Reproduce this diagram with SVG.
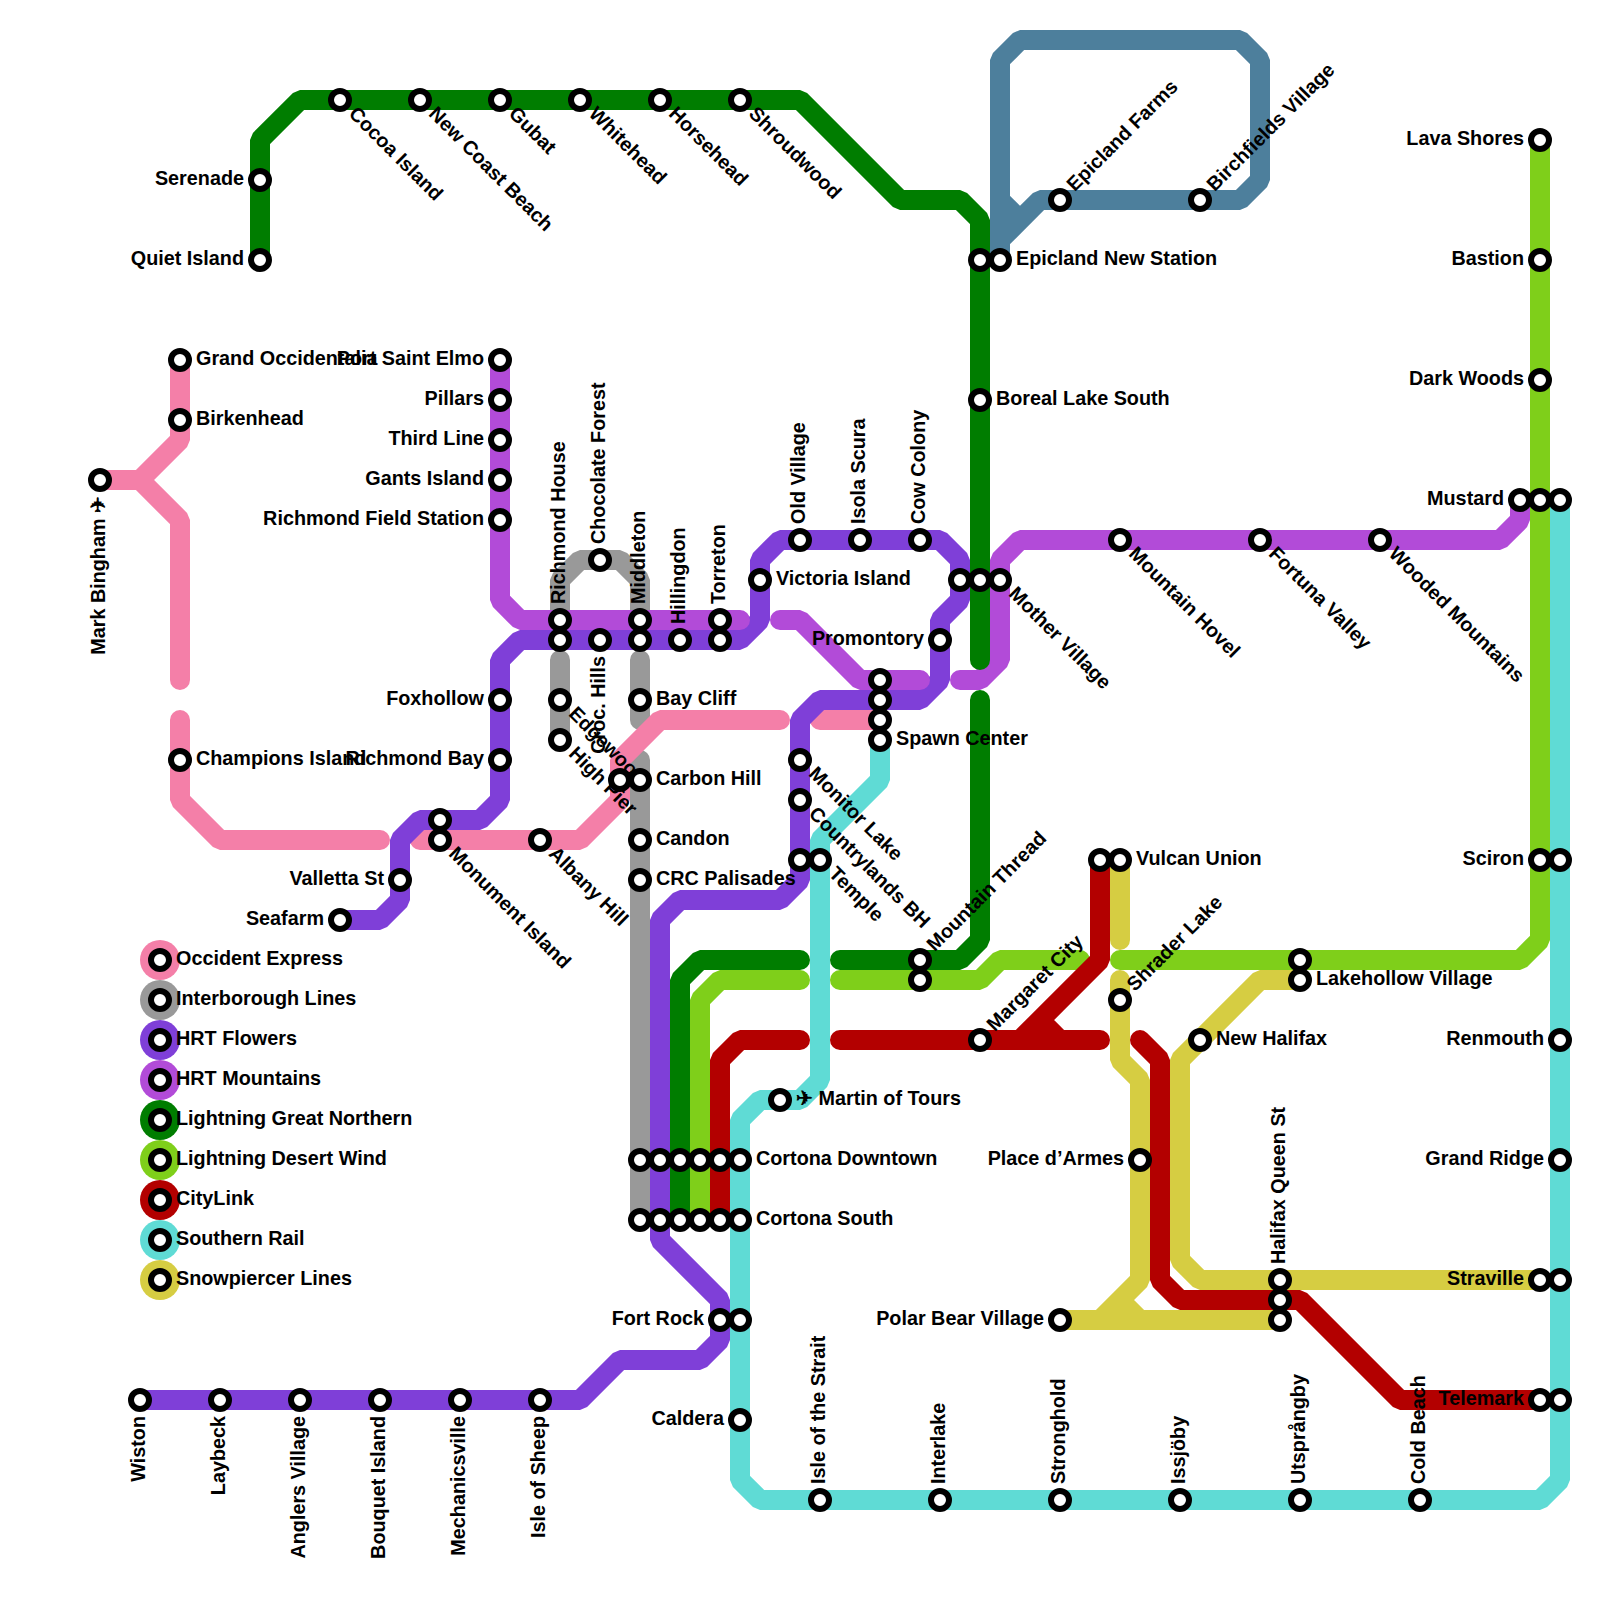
<svg xmlns="http://www.w3.org/2000/svg" width="1600" height="1600" viewBox="0 0 1600 1600">
<style>
text{font-family:"Liberation Sans",Arial,sans-serif;font-weight:700;font-size:19.8px;fill:#000}
.e{text-anchor:end}
.l{fill:none;stroke-width:20;stroke-linecap:round;stroke-linejoin:bevel}
.pk{stroke:#f47fa8}.gy{stroke:#999999}.pu{stroke:#7f3fd8}.mt{stroke:#b24bd8}.gn{stroke:#007d00}.lg{stroke:#7fcf1a}.rd{stroke:#b30000}.tq{stroke:#5fdbd5}.yl{stroke:#d6cd42}.bl{stroke:#4d7f9c}
.st{fill:#fff;stroke:#000;stroke-width:6}
</style>
<rect width="1600" height="1600" fill="#fff"/>
<g id="connectors">
<path class="l gy" d="M560 620V580L580 560H620L640 580V620M560 660V740M640 660V720M640 760V1220"/>
<path class="l pk" d="M180 360V440L140 480H100M140 480L180 520V680M180 720V800L220 840H380M420 840H580L620 800V760L660 720H780M820 720H880"/>
<path class="l pu" d="M340 920H380L400 900V840L420 820H480L500 800V660L520 640H740L760 620V560L780 540H940L960 560V600L940 620V680L920 700H820L800 720V880L780 900H680L660 920V1240L720 1300V1340L700 1360H620L580 1400H140"/>
<path class="l mt" d="M500 360V600L520 620H740M780 620H800L860 680H920M960 680H980L1000 660V560L1020 540H1500L1520 520V500"/>
<path class="l gn" d="M260 260V140L300 100H800L900 200H960L980 220V660M980 700V940L960 960H840M800 960H700L680 980V1220"/>
<path class="l lg" d="M1540 140V940L1520 960H1120M1080 960H1000L980 980H840M800 980H720L700 1000V1220"/>
<path class="l yl" d="M1120 860V940M1120 980V1060L1140 1080V1280L1100 1320H1060M1120 1300L1140 1320M1060 1320H1280M1300 980H1260L1180 1060V1260L1200 1280H1540"/>
<path class="l rd" d="M840 1040H1100M1020 1040L1100 960V860M1040 1020L1060 1040M800 1040H740L720 1060V1220M1140 1040L1160 1060V1280L1180 1300H1300L1400 1400H1540"/>
<path class="l tq" d="M880 740V780L820 840V1080L800 1100H760L740 1120V1480L760 1500H1540L1560 1480V500"/>
<path class="l bl" d="M1000 260V60L1020 40H1240L1260 60V180L1240 200H1040L1000 240M1000 200L1020 220"/>
</g>
<g id="legend">
<circle cx="160" cy="960" r="20" fill="#f47fa8"/><circle class="st" cx="160" cy="960" r="9"/><text x="176" y="965">Occident Express</text>
<circle cx="160" cy="1000" r="20" fill="#999999"/><circle class="st" cx="160" cy="1000" r="9"/><text x="176" y="1005">Interborough Lines</text>
<circle cx="160" cy="1040" r="20" fill="#7f3fd8"/><circle class="st" cx="160" cy="1040" r="9"/><text x="176" y="1045">HRT Flowers</text>
<circle cx="160" cy="1080" r="20" fill="#b24bd8"/><circle class="st" cx="160" cy="1080" r="9"/><text x="176" y="1085">HRT Mountains</text>
<circle cx="160" cy="1120" r="20" fill="#007d00"/><circle class="st" cx="160" cy="1120" r="9"/><text x="176" y="1125">Lightning Great Northern</text>
<circle cx="160" cy="1160" r="20" fill="#7fcf1a"/><circle class="st" cx="160" cy="1160" r="9"/><text x="176" y="1165">Lightning Desert Wind</text>
<circle cx="160" cy="1200" r="20" fill="#b30000"/><circle class="st" cx="160" cy="1200" r="9"/><text x="176" y="1205">CityLink</text>
<circle cx="160" cy="1240" r="20" fill="#5fdbd5"/><circle class="st" cx="160" cy="1240" r="9"/><text x="176" y="1245">Southern Rail</text>
<circle cx="160" cy="1280" r="20" fill="#d6cd42"/><circle class="st" cx="160" cy="1280" r="9"/><text x="176" y="1285">Snowpiercer Lines</text>
</g>
<g id="stations">
<g id="mark-bingham"><circle class="st" cx="100" cy="480" r="9"/><text class="e" transform="translate(100 480) rotate(-90)" x="-16" y="5">Mark Bingham ✈</text></g>
<g id="grand-occidentalia"><circle class="st" cx="180" cy="360" r="9"/><text x="196" y="365">Grand Occidentalia</text></g>
<g id="birkenhead"><circle class="st" cx="180" cy="420" r="9"/><text x="196" y="425">Birkenhead</text></g>
<g id="champions-island"><circle class="st" cx="180" cy="760" r="9"/><text x="196" y="765">Champions Island</text></g>
<g id="port-saint-elmo"><circle class="st" cx="500" cy="360" r="9"/><text class="e" x="484" y="365">Port Saint Elmo</text></g>
<g id="pillars"><circle class="st" cx="500" cy="400" r="9"/><text class="e" x="484" y="405">Pillars</text></g>
<g id="third-line"><circle class="st" cx="500" cy="440" r="9"/><text class="e" x="484" y="445">Third Line</text></g>
<g id="gants-island"><circle class="st" cx="500" cy="480" r="9"/><text class="e" x="484" y="485">Gants Island</text></g>
<g id="richmond-field-station"><circle class="st" cx="500" cy="520" r="9"/><text class="e" x="484" y="525">Richmond Field Station</text></g>
<g id="foxhollow"><circle class="st" cx="500" cy="700" r="9"/><text class="e" x="484" y="705">Foxhollow</text></g>
<g id="richmond-bay"><circle class="st" cx="500" cy="760" r="9"/><text class="e" x="484" y="765">Richmond Bay</text></g>
<g id="monument-island"><circle class="st" cx="440" cy="820" r="9"/><circle class="st" cx="440" cy="840" r="9"/><text transform="translate(440 840) rotate(45)" x="16" y="5">Monument Island</text></g>
<g id="valletta-st"><circle class="st" cx="400" cy="880" r="9"/><text class="e" x="384" y="885">Valletta St</text></g>
<g id="seafarm"><circle class="st" cx="340" cy="920" r="9"/><text class="e" x="324" y="925">Seafarm</text></g>
<g id="albany-hill"><circle class="st" cx="540" cy="840" r="9"/><text transform="translate(540 840) rotate(45)" x="16" y="5">Albany Hill</text></g>
<g id="serenade"><circle class="st" cx="260" cy="180" r="9"/><text class="e" x="244" y="185">Serenade</text></g>
<g id="quiet-island"><circle class="st" cx="260" cy="260" r="9"/><text class="e" x="244" y="265">Quiet Island</text></g>
<g id="cocoa-island"><circle class="st" cx="340" cy="100" r="9"/><text transform="translate(340 100) rotate(45)" x="16" y="5">Cocoa Island</text></g>
<g id="new-coast-beach"><circle class="st" cx="420" cy="100" r="9"/><text transform="translate(420 100) rotate(45)" x="16" y="5">New Coast Beach</text></g>
<g id="gubat"><circle class="st" cx="500" cy="100" r="9"/><text transform="translate(500 100) rotate(45)" x="16" y="5">Gubat</text></g>
<g id="whitehead"><circle class="st" cx="580" cy="100" r="9"/><text transform="translate(580 100) rotate(45)" x="16" y="5">Whitehead</text></g>
<g id="horsehead"><circle class="st" cx="660" cy="100" r="9"/><text transform="translate(660 100) rotate(45)" x="16" y="5">Horsehead</text></g>
<g id="shroudwood"><circle class="st" cx="740" cy="100" r="9"/><text transform="translate(740 100) rotate(45)" x="16" y="5">Shroudwood</text></g>
<g id="richmond-house"><circle class="st" cx="560" cy="620" r="9"/><circle class="st" cx="560" cy="640" r="9"/><text transform="translate(560 620) rotate(-90)" x="16" y="5">Richmond House</text></g>
<g id="chocolate-forest"><circle class="st" cx="600" cy="560" r="9"/><text transform="translate(600 560) rotate(-90)" x="16" y="5">Chocolate Forest</text></g>
<g id="croc-hills"><circle class="st" cx="600" cy="640" r="9"/><text class="e" transform="translate(600 640) rotate(-90)" x="-16" y="5">Croc. Hills</text></g>
<g id="middleton"><circle class="st" cx="640" cy="620" r="9"/><circle class="st" cx="640" cy="640" r="9"/><text transform="translate(640 620) rotate(-90)" x="16" y="5">Middleton</text></g>
<g id="hillingdon"><circle class="st" cx="680" cy="640" r="9"/><text transform="translate(680 640) rotate(-90)" x="16" y="5">Hillingdon</text></g>
<g id="torreton"><circle class="st" cx="720" cy="620" r="9"/><circle class="st" cx="720" cy="640" r="9"/><text transform="translate(720 620) rotate(-90)" x="16" y="5">Torreton</text></g>
<g id="edgewood"><circle class="st" cx="560" cy="700" r="9"/><text transform="translate(560 700) rotate(45)" x="16" y="5">Edgewood</text></g>
<g id="high-pier"><circle class="st" cx="560" cy="740" r="9"/><text transform="translate(560 740) rotate(45)" x="16" y="5">High Pier</text></g>
<g id="bay-cliff"><circle class="st" cx="640" cy="700" r="9"/><text x="656" y="705">Bay Cliff</text></g>
<g id="carbon-hill"><circle class="st" cx="620" cy="780" r="9"/><circle class="st" cx="640" cy="780" r="9"/><text x="656" y="785">Carbon Hill</text></g>
<g id="candon"><circle class="st" cx="640" cy="840" r="9"/><text x="656" y="845">Candon</text></g>
<g id="crc-palisades"><circle class="st" cx="640" cy="880" r="9"/><text x="656" y="885">CRC Palisades</text></g>
<g id="victoria-island"><circle class="st" cx="760" cy="580" r="9"/><text x="776" y="585">Victoria Island</text></g>
<g id="old-village"><circle class="st" cx="800" cy="540" r="9"/><text transform="translate(800 540) rotate(-90)" x="16" y="5">Old Village</text></g>
<g id="isola-scura"><circle class="st" cx="860" cy="540" r="9"/><text transform="translate(860 540) rotate(-90)" x="16" y="5">Isola Scura</text></g>
<g id="cow-colony"><circle class="st" cx="920" cy="540" r="9"/><text transform="translate(920 540) rotate(-90)" x="16" y="5">Cow Colony</text></g>
<g id="promontory"><circle class="st" cx="940" cy="640" r="9"/><text class="e" x="924" y="645">Promontory</text></g>
<g id="mother-village"><circle class="st" cx="960" cy="580" r="9"/><circle class="st" cx="980" cy="580" r="9"/><circle class="st" cx="1000" cy="580" r="9"/><text transform="translate(1000 580) rotate(45)" x="16" y="5">Mother Village</text></g>
<g id="spawn-center"><circle class="st" cx="880" cy="680" r="9"/><circle class="st" cx="880" cy="700" r="9"/><circle class="st" cx="880" cy="720" r="9"/><circle class="st" cx="880" cy="740" r="9"/><text x="896" y="745">Spawn Center</text></g>
<g id="monitor-lake"><circle class="st" cx="800" cy="760" r="9"/><text transform="translate(800 760) rotate(45)" x="16" y="5">Monitor Lake</text></g>
<g id="countrylands-bh"><circle class="st" cx="800" cy="800" r="9"/><text transform="translate(800 800) rotate(45)" x="16" y="5">Countrylands BH</text></g>
<g id="temple"><circle class="st" cx="800" cy="860" r="9"/><circle class="st" cx="820" cy="860" r="9"/><text transform="translate(820 860) rotate(45)" x="16" y="5">Temple</text></g>
<g id="epicland-new-station"><circle class="st" cx="980" cy="260" r="9"/><circle class="st" cx="1000" cy="260" r="9"/><text x="1016" y="265">Epicland New Station</text></g>
<g id="boreal-lake-south"><circle class="st" cx="980" cy="400" r="9"/><text x="996" y="405">Boreal Lake South</text></g>
<g id="epicland-farms"><circle class="st" cx="1060" cy="200" r="9"/><text transform="translate(1060 200) rotate(-45)" x="16" y="5">Epicland Farms</text></g>
<g id="birchfields-village"><circle class="st" cx="1200" cy="200" r="9"/><text transform="translate(1200 200) rotate(-45)" x="16" y="5">Birchfields Village</text></g>
<g id="mountain-hovel"><circle class="st" cx="1120" cy="540" r="9"/><text transform="translate(1120 540) rotate(45)" x="16" y="5">Mountain Hovel</text></g>
<g id="fortuna-valley"><circle class="st" cx="1260" cy="540" r="9"/><text transform="translate(1260 540) rotate(45)" x="16" y="5">Fortuna Valley</text></g>
<g id="wooded-mountains"><circle class="st" cx="1380" cy="540" r="9"/><text transform="translate(1380 540) rotate(45)" x="16" y="5">Wooded Mountains</text></g>
<g id="lava-shores"><circle class="st" cx="1540" cy="140" r="9"/><text class="e" x="1524" y="145">Lava Shores</text></g>
<g id="bastion"><circle class="st" cx="1540" cy="260" r="9"/><text class="e" x="1524" y="265">Bastion</text></g>
<g id="dark-woods"><circle class="st" cx="1540" cy="380" r="9"/><text class="e" x="1524" y="385">Dark Woods</text></g>
<g id="mustard"><circle class="st" cx="1520" cy="500" r="9"/><circle class="st" cx="1540" cy="500" r="9"/><circle class="st" cx="1560" cy="500" r="9"/><text class="e" x="1504" y="505">Mustard</text></g>
<g id="sciron"><circle class="st" cx="1540" cy="860" r="9"/><circle class="st" cx="1560" cy="860" r="9"/><text class="e" x="1524" y="865">Sciron</text></g>
<g id="renmouth"><circle class="st" cx="1560" cy="1040" r="9"/><text class="e" x="1544" y="1045">Renmouth</text></g>
<g id="grand-ridge"><circle class="st" cx="1560" cy="1160" r="9"/><text class="e" x="1544" y="1165">Grand Ridge</text></g>
<g id="straville"><circle class="st" cx="1540" cy="1280" r="9"/><circle class="st" cx="1560" cy="1280" r="9"/><text class="e" x="1524" y="1285">Straville</text></g>
<g id="telemark"><circle class="st" cx="1540" cy="1400" r="9"/><circle class="st" cx="1560" cy="1400" r="9"/><text class="e" x="1524" y="1405">Telemark</text></g>
<g id="vulcan-union"><circle class="st" cx="1100" cy="860" r="9"/><circle class="st" cx="1120" cy="860" r="9"/><text x="1136" y="865">Vulcan Union</text></g>
<g id="shrader-lake"><circle class="st" cx="1120" cy="1000" r="9"/><text transform="translate(1120 1000) rotate(-45)" x="16" y="5">Shrader Lake</text></g>
<g id="margaret-city"><circle class="st" cx="980" cy="1040" r="9"/><text transform="translate(980 1040) rotate(-45)" x="16" y="5">Margaret City</text></g>
<g id="mountain-thread"><circle class="st" cx="920" cy="960" r="9"/><circle class="st" cx="920" cy="980" r="9"/><text transform="translate(920 960) rotate(-45)" x="16" y="5">Mountain Thread</text></g>
<g id="lakehollow-village"><circle class="st" cx="1300" cy="960" r="9"/><circle class="st" cx="1300" cy="980" r="9"/><text x="1316" y="985">Lakehollow Village</text></g>
<g id="new-halifax"><circle class="st" cx="1200" cy="1040" r="9"/><text x="1216" y="1045">New Halifax</text></g>
<g id="place-darmes"><circle class="st" cx="1140" cy="1160" r="9"/><text class="e" x="1124" y="1165">Place d’Armes</text></g>
<g id="polar-bear-village"><circle class="st" cx="1060" cy="1320" r="9"/><text class="e" x="1044" y="1325">Polar Bear Village</text></g>
<g id="halifax-queen-st"><circle class="st" cx="1280" cy="1280" r="9"/><circle class="st" cx="1280" cy="1300" r="9"/><circle class="st" cx="1280" cy="1320" r="9"/><text transform="translate(1280 1280) rotate(-90)" x="16" y="5">Halifax Queen St</text></g>
<g id="martin-of-tours"><circle class="st" cx="780" cy="1100" r="9"/><text x="796" y="1105">✈ Martin of Tours</text></g>
<g id="cortona-downtown"><circle class="st" cx="640" cy="1160" r="9"/><circle class="st" cx="660" cy="1160" r="9"/><circle class="st" cx="680" cy="1160" r="9"/><circle class="st" cx="700" cy="1160" r="9"/><circle class="st" cx="720" cy="1160" r="9"/><circle class="st" cx="740" cy="1160" r="9"/><text x="756" y="1165">Cortona Downtown</text></g>
<g id="cortona-south"><circle class="st" cx="640" cy="1220" r="9"/><circle class="st" cx="660" cy="1220" r="9"/><circle class="st" cx="680" cy="1220" r="9"/><circle class="st" cx="700" cy="1220" r="9"/><circle class="st" cx="720" cy="1220" r="9"/><circle class="st" cx="740" cy="1220" r="9"/><text x="756" y="1225">Cortona South</text></g>
<g id="fort-rock"><circle class="st" cx="720" cy="1320" r="9"/><circle class="st" cx="740" cy="1320" r="9"/><text class="e" x="704" y="1325">Fort Rock</text></g>
<g id="caldera"><circle class="st" cx="740" cy="1420" r="9"/><text class="e" x="724" y="1425">Caldera</text></g>
<g id="wiston"><circle class="st" cx="140" cy="1400" r="9"/><text class="e" transform="translate(140 1400) rotate(-90)" x="-16" y="5">Wiston</text></g>
<g id="laybeck"><circle class="st" cx="220" cy="1400" r="9"/><text class="e" transform="translate(220 1400) rotate(-90)" x="-16" y="5">Laybeck</text></g>
<g id="anglers-village"><circle class="st" cx="300" cy="1400" r="9"/><text class="e" transform="translate(300 1400) rotate(-90)" x="-16" y="5">Anglers Village</text></g>
<g id="bouquet-island"><circle class="st" cx="380" cy="1400" r="9"/><text class="e" transform="translate(380 1400) rotate(-90)" x="-16" y="5">Bouquet Island</text></g>
<g id="mechanicsville"><circle class="st" cx="460" cy="1400" r="9"/><text class="e" transform="translate(460 1400) rotate(-90)" x="-16" y="5">Mechanicsville</text></g>
<g id="isle-of-sheep"><circle class="st" cx="540" cy="1400" r="9"/><text class="e" transform="translate(540 1400) rotate(-90)" x="-16" y="5">Isle of Sheep</text></g>
<g id="isle-of-the-strait"><circle class="st" cx="820" cy="1500" r="9"/><text transform="translate(820 1500) rotate(-90)" x="16" y="5">Isle of the Strait</text></g>
<g id="interlake"><circle class="st" cx="940" cy="1500" r="9"/><text transform="translate(940 1500) rotate(-90)" x="16" y="5">Interlake</text></g>
<g id="stronghold"><circle class="st" cx="1060" cy="1500" r="9"/><text transform="translate(1060 1500) rotate(-90)" x="16" y="5">Stronghold</text></g>
<g id="issjoby"><circle class="st" cx="1180" cy="1500" r="9"/><text transform="translate(1180 1500) rotate(-90)" x="16" y="5">Issjöby</text></g>
<g id="utsprangby"><circle class="st" cx="1300" cy="1500" r="9"/><text transform="translate(1300 1500) rotate(-90)" x="16" y="5">Utsprångby</text></g>
<g id="cold-beach"><circle class="st" cx="1420" cy="1500" r="9"/><text transform="translate(1420 1500) rotate(-90)" x="16" y="5">Cold Beach</text></g>
</g>
</svg>
